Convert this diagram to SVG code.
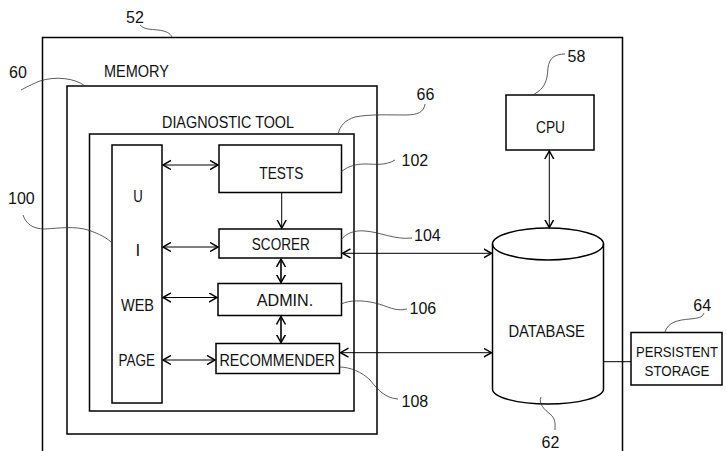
<svg xmlns="http://www.w3.org/2000/svg" width="727" height="451" viewBox="0 0 727 451">
<style>
  .box{fill:none;stroke:#000;stroke-width:1.5}
  .lbl{font-family:"Liberation Sans",Arial,sans-serif;font-size:17px;fill:#111}
  .sm{font-size:14.5px}
  .num{font-family:"Liberation Sans",Arial,sans-serif;font-size:16px;fill:#111}
  .conn{fill:none;stroke:#000;stroke-width:1}
  .thick{stroke-width:1.6}
  .lead{fill:none;stroke:#333;stroke-width:0.8}
</style>
<defs>
  <marker id="ah" markerUnits="userSpaceOnUse" markerWidth="12" markerHeight="12" refX="8" refY="5" orient="auto-start-reverse">
    <path d="M0,0.5 L8,5 L0,9.5" fill="none" stroke="#000" stroke-width="1.5"/>
  </marker>
</defs>
<rect width="727" height="451" fill="#fff"/>

<g id="system-52">
  <path class="box" d="M42.5,452 V37.5 H622.5 V452"/>
  <text class="num" x="126" y="23">52</text>
</g>
<g id="memory-60">
  <rect class="box" x="67" y="86" width="310" height="348"/>
  <text class="lbl" x="104" y="77" textLength="65" lengthAdjust="spacingAndGlyphs">MEMORY</text>
  <text class="num" x="9" y="77.5">60</text>
</g>
<g id="diagnostic-66">
  <rect class="box" x="89.5" y="134" width="264.5" height="277"/>
  <text class="lbl" x="162" y="128" textLength="132" lengthAdjust="spacingAndGlyphs">DIAGNOSTIC TOOL</text>
  <text class="num" x="416.5" y="100">66</text>
</g>
<g id="ui-100">
  <rect class="box" x="112" y="145" width="50" height="258"/>
  <text class="lbl" x="138" y="202" text-anchor="middle" textLength="9.5" lengthAdjust="spacingAndGlyphs">U</text>
  <text class="lbl" x="137.8" y="255.5" text-anchor="middle">I</text>
  <text class="lbl" x="137.5" y="310.5" text-anchor="middle" textLength="33" lengthAdjust="spacingAndGlyphs">WEB</text>
  <text class="lbl" x="136.7" y="366" text-anchor="middle" textLength="36.5" lengthAdjust="spacingAndGlyphs">PAGE</text>
  <text class="num" x="8" y="204">100</text>
</g>
<g id="tests-102">
  <rect class="box" x="219" y="145" width="122.5" height="47.5"/>
  <text class="lbl" x="281.3" y="179" text-anchor="middle" textLength="44" lengthAdjust="spacingAndGlyphs">TESTS</text>
  <text class="num" x="401.5" y="166">102</text>
</g>
<g id="scorer-104">
  <rect class="box" x="219" y="229" width="122.5" height="29"/>
  <text class="lbl" x="280.8" y="249.5" text-anchor="middle" textLength="58" lengthAdjust="spacingAndGlyphs">SCORER</text>
  <text class="num" x="414" y="241">104</text>
</g>
<g id="admin-106">
  <rect class="box" x="218" y="283.5" width="123.5" height="32"/>
  <text class="lbl" x="285" y="305.5" text-anchor="middle" textLength="56.5" lengthAdjust="spacingAndGlyphs">ADMIN.</text>
  <text class="num" x="409.5" y="314">106</text>
</g>
<g id="recommender-108">
  <rect class="box" x="216" y="343.5" width="123.5" height="30"/>
  <text class="lbl" x="277.2" y="365.5" text-anchor="middle" textLength="115.5" lengthAdjust="spacingAndGlyphs">RECOMMENDER</text>
  <text class="num" x="401.5" y="406.5">108</text>
</g>
<g id="cpu-58">
  <rect class="box" x="506" y="95" width="88" height="55"/>
  <text class="lbl" x="550.5" y="132.5" text-anchor="middle" textLength="29" lengthAdjust="spacingAndGlyphs">CPU</text>
  <text class="num" x="567.5" y="61.5">58</text>
</g>
<g id="database-62">
  <path class="box" d="M492.5,244 V389 A55.5,15 0 0 0 603.5,389 V244"/>
  <ellipse class="box" cx="548" cy="244" rx="55.5" ry="16"/>
  <text class="lbl" x="546.7" y="337" text-anchor="middle" textLength="76.5" lengthAdjust="spacingAndGlyphs">DATABASE</text>
  <text class="num" x="541.5" y="447.5">62</text>
</g>
<g id="storage-64">
  <rect class="box" x="631" y="332.5" width="91" height="52.5"/>
  <text class="lbl sm" x="677" y="357.3" text-anchor="middle" textLength="82" lengthAdjust="spacingAndGlyphs">PERSISTENT</text>
  <text class="lbl sm" x="677" y="376" text-anchor="middle" textLength="65" lengthAdjust="spacingAndGlyphs">STORAGE</text>
  <text class="num" x="693.3" y="311">64</text>
</g>

<g id="connectors">
  <line class="conn" x1="163" y1="165" x2="218" y2="165" marker-start="url(#ah)" marker-end="url(#ah)"/>
  <line class="conn" x1="163" y1="247" x2="218" y2="247" marker-start="url(#ah)" marker-end="url(#ah)"/>
  <line class="conn" x1="163" y1="297.5" x2="217" y2="297.5" marker-start="url(#ah)" marker-end="url(#ah)"/>
  <line class="conn" x1="163" y1="360" x2="215" y2="360" marker-start="url(#ah)" marker-end="url(#ah)"/>
  <line class="conn" x1="281.7" y1="193" x2="281.7" y2="228" marker-end="url(#ah)"/>
  <line class="conn thick" x1="281" y1="259" x2="281" y2="282.5" marker-start="url(#ah)" marker-end="url(#ah)"/>
  <line class="conn thick" x1="281" y1="316.5" x2="281" y2="342.5" marker-start="url(#ah)" marker-end="url(#ah)"/>
  <line class="conn" x1="342.5" y1="253.3" x2="491.5" y2="253.3" marker-start="url(#ah)" marker-end="url(#ah)"/>
  <line class="conn" x1="340.5" y1="352.7" x2="491.5" y2="352.7" marker-start="url(#ah)" marker-end="url(#ah)"/>
  <line class="conn" x1="549.3" y1="151" x2="549.3" y2="227.5" marker-start="url(#ah)" marker-end="url(#ah)"/>
  <line class="conn" x1="604" y1="361.7" x2="631" y2="361.7"/>
  <path class="lead" d="M140,25 C145,30 150,29 158,30 C166,31 170,33 172,37"/>
  <path class="lead" d="M21,90 C25,88 32,84 40,81 C55,76 75,78 85,86"/>
  <path class="lead" d="M425,104 C424,112 418,115 405,115 C390,115 370,114 355,117 C345,120 340,126 338,134"/>
  <path class="lead" d="M565,54 C555,54 549,58 548,68 C547,82 545,88 533,95"/>
  <path class="lead" d="M23,215 C26,224 33,229 45,229 C60,228 75,226 88,230 C100,234 107,238 112,243"/>
  <path class="lead" d="M341,172 C348,166 356,164 365,164 C375,164 385,166 395,160"/>
  <path class="lead" d="M341,240 C346,233 355,230 365,231 C380,232 395,240 412,238"/>
  <path class="lead" d="M341,304 C350,300 362,300 375,303 C388,306 395,312 407,309"/>
  <path class="lead" d="M339,367 C350,367 362,372 370,380 C378,390 385,398 398,399"/>
  <path class="lead" d="M541,397 C538,404 545,410 550,414 C556,419 555,424 555,430"/>
  <path class="lead" d="M704,313 C702,318 698,318 690,319 C678,320 668,322 665,332"/>
</g>
</svg>
